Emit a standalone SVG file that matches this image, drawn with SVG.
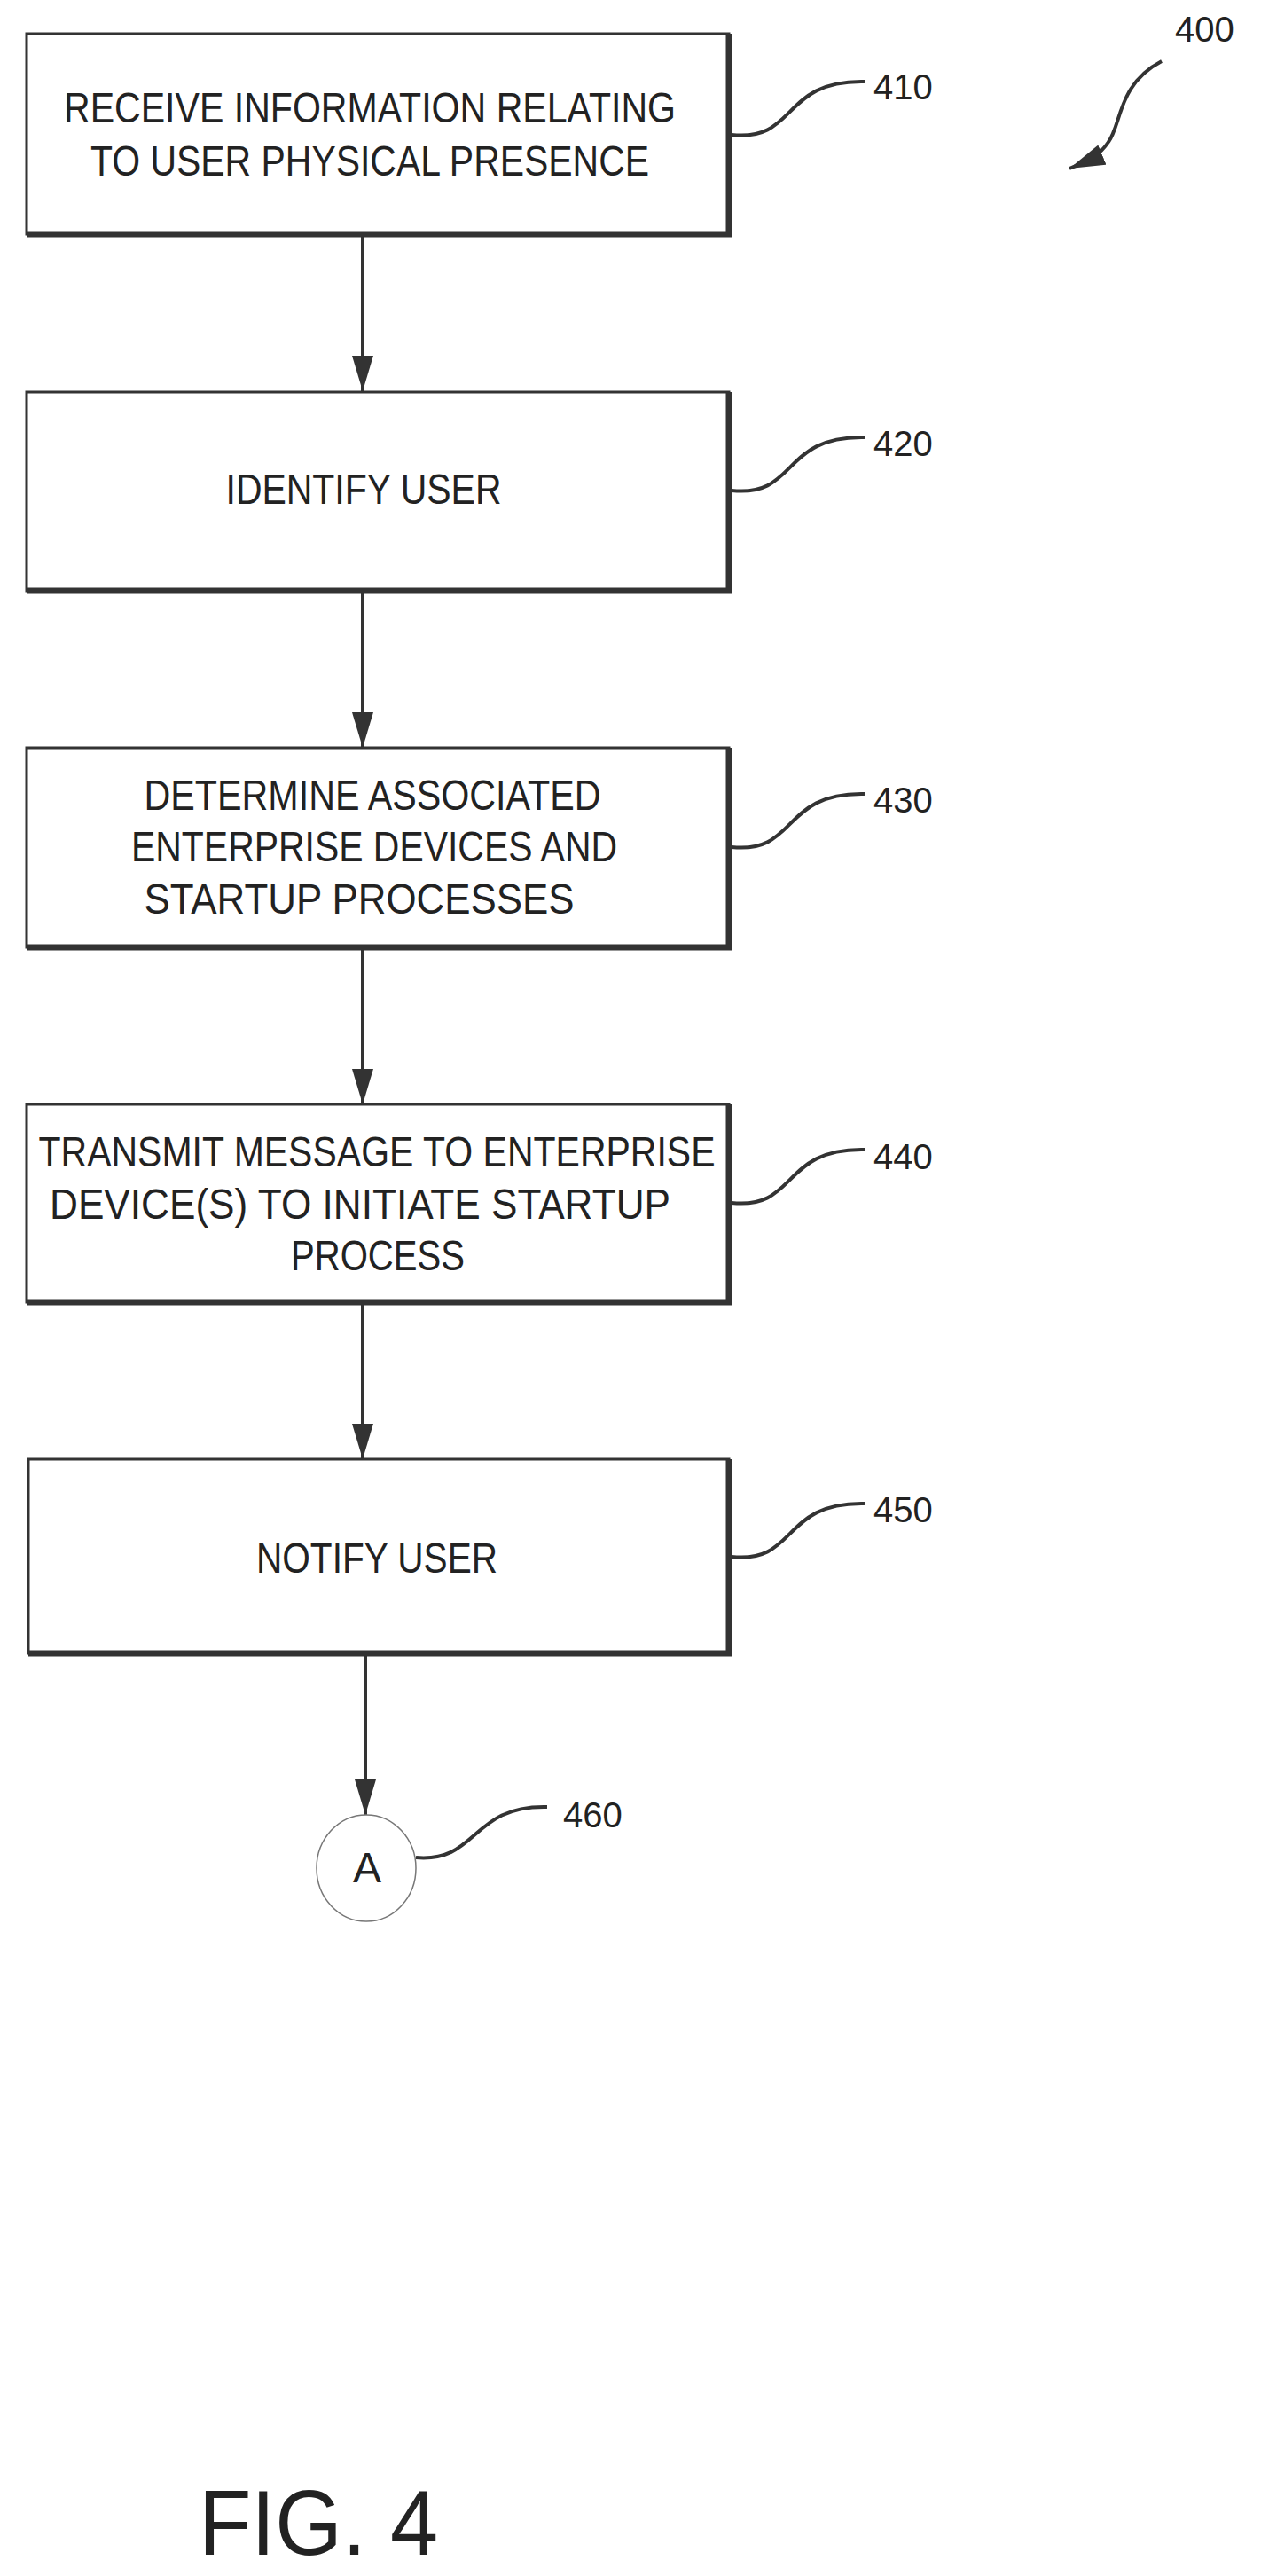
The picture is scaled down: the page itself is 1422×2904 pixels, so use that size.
<svg xmlns="http://www.w3.org/2000/svg" width="1422" height="2904" viewBox="0 0 1422 2904">
<defs>
<marker id="ah" markerUnits="userSpaceOnUse" markerWidth="40" markerHeight="24" refX="40" refY="12" orient="auto" viewBox="0 0 40 24"><path d="M0,0 L40,12 L0,24 Z" fill="#333"/></marker>
</defs>
<style>
.box{fill:#fff;stroke:#333;stroke-width:3}
.sh{stroke:#333;stroke-width:7;fill:none}
.t{font-family:"Liberation Sans Narrow","Liberation Sans",Arial,sans-serif;font-size:48px;fill:#222;text-anchor:middle}
.n{font-family:"Liberation Sans Narrow","Liberation Sans",Arial,sans-serif;font-size:40px;fill:#222}
.c{stroke:#333;stroke-width:4;fill:none}
.l{stroke:#333;stroke-width:4;fill:none}
</style>
<rect width="1422" height="2904" fill="#fff"/>
<g id="connectors">
<line class="c" x1="409" y1="266" x2="409" y2="441" marker-end="url(#ah)"/>
<line class="c" x1="409" y1="668" x2="409" y2="843" marker-end="url(#ah)"/>
<line class="c" x1="409" y1="1070" x2="409" y2="1245" marker-end="url(#ah)"/>
<line class="c" x1="409" y1="1470" x2="409" y2="1645" marker-end="url(#ah)"/>
<line class="c" x1="412" y1="1866" x2="412" y2="2046" marker-end="url(#ah)"/>
<path class="l" d="M825,152 C900,160 880,90 975,92"/>
<path class="l" d="M825,553 C900,561 880,491 975,493"/>
<path class="l" d="M825,955 C900,963 880,893 975,895"/>
<path class="l" d="M825,1356 C900,1364 880,1294 975,1296"/>
<path class="l" d="M825,1755 C900,1763 880,1693 975,1695"/>
<path class="l" d="M469,2094 C540,2100 530,2035 617,2037"/>
<path class="c" d="M1310,69 C1260,95 1265,140 1250,160 C1240,175 1230,180 1206,190" marker-end="url(#ah)"/>
</g>
<g id="n410"><rect class="box" x="30" y="38" width="792" height="226"/><path class="sh" d="M30,264 H822 V38"/>
<text class="t" x="417" y="138" textLength="690" lengthAdjust="spacingAndGlyphs">RECEIVE INFORMATION RELATING</text>
<text class="t" x="417" y="198" textLength="630" lengthAdjust="spacingAndGlyphs">TO USER PHYSICAL PRESENCE</text>
<text class="n" x="985" y="112">410</text></g>
<g id="n420"><rect class="box" x="30" y="442" width="792" height="224"/><path class="sh" d="M30,666 H822 V442"/>
<text class="t" x="410" y="568" textLength="311" lengthAdjust="spacingAndGlyphs">IDENTIFY USER</text>
<text class="n" x="985" y="514">420</text></g>
<g id="n430"><rect class="box" x="30" y="843" width="792" height="225"/><path class="sh" d="M30,1068 H822 V843"/>
<text class="t" x="420" y="913" textLength="515" lengthAdjust="spacingAndGlyphs">DETERMINE ASSOCIATED</text>
<text class="t" x="422" y="971" textLength="548" lengthAdjust="spacingAndGlyphs">ENTERPRISE DEVICES AND</text>
<text class="t" x="405" y="1030" textLength="485" lengthAdjust="spacingAndGlyphs">STARTUP PROCESSES</text>
<text class="n" x="985" y="916">430</text></g>
<g id="n440"><rect class="box" x="30" y="1245" width="792" height="223"/><path class="sh" d="M30,1468 H822 V1245"/>
<text class="t" x="425" y="1315" textLength="763" lengthAdjust="spacingAndGlyphs">TRANSMIT MESSAGE TO ENTERPRISE</text>
<text class="t" x="406" y="1374" textLength="700" lengthAdjust="spacingAndGlyphs">DEVICE(S) TO INITIATE STARTUP</text>
<text class="t" x="426" y="1432" textLength="196" lengthAdjust="spacingAndGlyphs">PROCESS</text>
<text class="n" x="985" y="1318">440</text></g>
<g id="n450"><rect class="box" x="32" y="1645" width="790" height="219"/><path class="sh" d="M32,1864 H822 V1645"/>
<text class="t" x="425" y="1773" textLength="272" lengthAdjust="spacingAndGlyphs">NOTIFY USER</text>
<text class="n" x="985" y="1716">450</text></g>
<g id="n460"><ellipse cx="413" cy="2106" rx="56" ry="60" fill="#fff" stroke="#777" stroke-width="1.5"/>
<text class="t" x="414" y="2122" font-size="44">A</text>
<text class="n" x="635" y="2060">460</text></g>
<g id="n400"><text class="n" x="1325" y="47">400</text></g>
<text font-family="Liberation Sans, Arial, sans-serif" font-size="104" fill="#222" x="224" y="2880" textLength="270" lengthAdjust="spacingAndGlyphs">FIG. 4</text>
</svg>
